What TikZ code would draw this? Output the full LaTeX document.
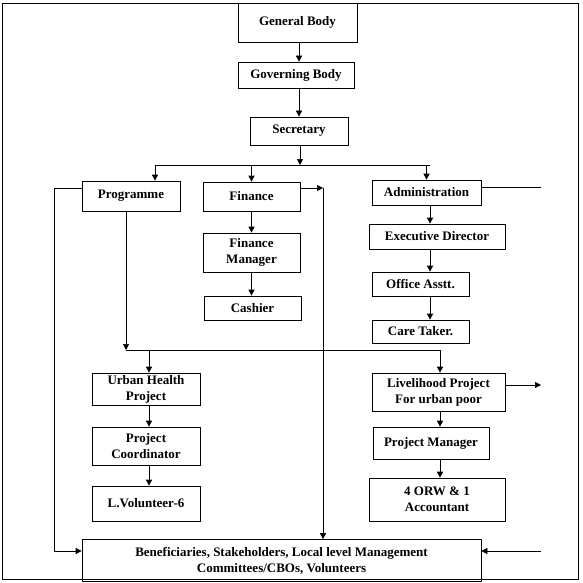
\documentclass[tikz,border=0pt]{standalone}
\usepackage{fontspec}
\setmainfont{Liberation Serif}
\usepackage{tikz}
\usetikzlibrary{arrows.meta}

\begin{document}
\begin{tikzpicture}[x=1pt,y=-1pt,
  unit/.style={draw, line width=0.7pt, inner sep=1pt, align=center, font=\bfseries\fontsize{13}{16}\selectfont},
  link/.style={line width=0.7pt, -{Triangle[length=6pt,width=6pt]}},
  wire/.style={line width=0.7pt}
]
  \useasboundingbox (0,0) rectangle (582,583);
  \draw[wire] (2.5,3) rectangle (578,579.5);

  \node[unit, minimum width=119pt, minimum height=39pt] (general) at (297.5,22.5) {General Body};
  \node[unit, minimum width=116pt, minimum height=26pt] (governing) at (296,75) {Governing Body};
  \node[unit, minimum width=98pt, minimum height=28pt] (secretary) at (299,131) {Secretary};
  \node[unit, minimum width=98pt, minimum height=30pt] (programme) at (131,196) {Programme};
  \node[unit, minimum width=97pt, minimum height=29pt] (finance) at (251.5,196.5) {Finance};
  \node[unit, minimum width=109pt, minimum height=25pt] (administration) at (426.5,192.5) {Administration};
  \node[unit, minimum width=97pt, minimum height=39pt] (finmanager) at (251.5,252.5) {Finance\\Manager};
  \node[unit, minimum width=97pt, minimum height=24pt] (cashier) at (252.5,308) {Cashier};
  \node[unit, minimum width=136pt, minimum height=25pt] (executive) at (437,236.5) {Executive Director};
  \node[unit, minimum width=97pt, minimum height=24pt] (office) at (420.5,284) {Office Asstt.};
  \node[unit, minimum width=97pt, minimum height=23pt] (caretaker) at (420.5,331.5) {Care Taker.};
  \node[unit, minimum width=108pt, minimum height=32pt] (urban) at (146,389) {Urban Health\\Project};
  \node[unit, minimum width=108pt, minimum height=38pt] (coordinator) at (146,446) {Project\\Coordinator};
  \node[unit, minimum width=108pt, minimum height=35pt] (volunteer) at (146,503.5) {L.Volunteer-6};
  \node[unit, minimum width=133pt, minimum height=38pt] (livelihood) at (438.5,392) {Livelihood Project\\For urban poor};
  \node[unit, minimum width=116pt, minimum height=32pt] (manager) at (431,443) {Project Manager};
  \node[unit, minimum width=136pt, minimum height=43pt] (orw) at (437,499.5) {4 ORW \& 1\\Accountant};
  \node[unit, minimum width=399pt, minimum height=42pt] (beneficiaries) at (281.5,560.5) {Beneficiaries, Stakeholders, Local level Management\\Committees/CBOs, Volunteers};

  \coordinate (topcol) at (299,0);
  \draw[link] (topcol |- general.south) -- (topcol |- governing.north);
  \draw[link] (topcol |- governing.south) -- (topcol |- secretary.north);
  \coordinate (split) at (300,165);
  \coordinate (splitl) at (155,165);
  \coordinate (splitr) at (430,165);
  \draw[link] (split |- secretary.south) -- (split);
  \draw[wire] (splitl) -- (splitr);
  \draw[link] (splitl) -- (splitl |- programme.north);
  \draw[link] (finance.north |- splitl) -- (finance.north);
  \draw[link] (administration.north |- splitl) -- (administration.north);

  \coordinate (admcol) at (430,0);
  \draw[link] (admcol |- administration.south) -- (admcol |- executive.north);
  \draw[link] (admcol |- executive.south) -- (admcol |- office.north);
  \draw[link] (admcol |- office.south) -- (admcol |- caretaker.north);
  \coordinate (admend) at (541,187);
  \draw[wire] (administration.east |- admend) -- (admend);

  \draw[link] (finance.south) -- (finmanager.north);
  \draw[link] (finmanager.south) -- (finmanager.south |- cashier.north);
  \coordinate (finbend) at (323,188);
  \draw[link] (finance.east |- finbend) -- (finbend);
  \draw[link] (finbend) -- (finbend |- beneficiaries.north);

  \coordinate (progbend) at (54,188);
  \coordinate (benbend) at (54,551);
  \draw[link] (programme.west |- progbend) -- (progbend) -- (benbend) -- (benbend -| beneficiaries.west);
  \coordinate (benright) at (541,551);
  \draw[link] (benright) -- (benright -| beneficiaries.east);

  \coordinate (progjoin) at (126,350);
  \coordinate (projjoin) at (440,350);
  \draw[link] (progjoin |- programme.south) -- (progjoin);
  \draw[wire] (progjoin) -- (projjoin);
  \coordinate (urbancol) at (149,350);
  \draw[link] (urbancol) -- (urbancol |- urban.north);
  \draw[link] (urbancol |- urban.south) -- (urbancol |- coordinator.north);
  \draw[link] (urbancol |- coordinator.south) -- (urbancol |- volunteer.north);
  \draw[link] (projjoin) -- (projjoin |- livelihood.north);
  \draw[link] (projjoin |- livelihood.south) -- (projjoin |- manager.north);
  \draw[link] (projjoin |- manager.south) -- (projjoin |- orw.north);
  \coordinate (liveend) at (541,385);
  \draw[link] (livelihood.east |- liveend) -- (liveend);
\end{tikzpicture}
\end{document}
